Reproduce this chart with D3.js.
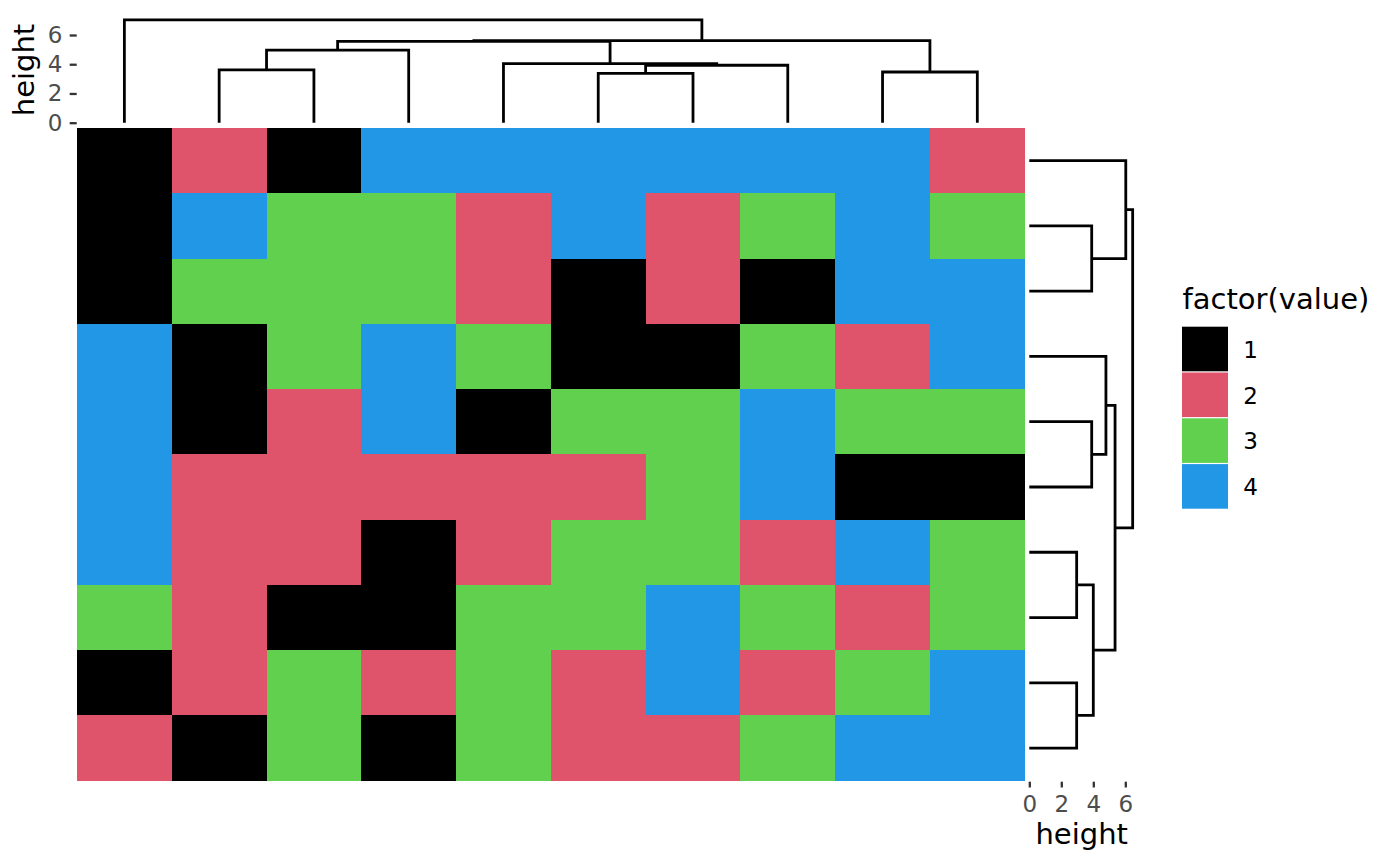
<!DOCTYPE html>
<html>
<head>
<meta charset="utf-8">
<script src="https://cdn.jsdelivr.net/npm/d3@7"></script>
<style>
  html, body { margin: 0; padding: 0; background: #ffffff; }
  svg { display: block; font-family: "DejaVu Sans", sans-serif; }
</style>
</head>
<body>
<svg id="chart" width="1400" height="865"></svg>
<script>
// ---------- data ----------
const colIds = ["c1","c2","c3","c4","c5","c6","c7","c8","c9","c10"];
const rowIds = ["r1","r2","r3","r4","r5","r6","r7","r8","r9","r10"];
const values = [
  [1,2,1,4,4,4,4,4,4,2],
  [1,4,3,3,2,4,2,3,4,3],
  [1,3,3,3,2,1,2,1,4,4],
  [4,1,3,4,3,1,1,3,2,4],
  [4,1,2,4,1,3,3,4,3,3],
  [4,2,2,2,2,2,3,4,1,1],
  [4,2,2,1,2,3,3,2,4,3],
  [3,2,1,1,3,3,4,3,2,3],
  [1,2,3,2,3,2,4,2,3,4],
  [2,1,3,1,3,2,2,3,4,4]
];
const levels = [1,2,3,4];
const levelColors = ["#000000","#DF536B","#61D04F","#2297E6"];
// hclust-style merges (negative = leaf index, positive = earlier merge)
const colMerge  = [[-6,-7],[-9,-10],[-2,-3],[1,-8],[-5,4],[3,-4],[6,5],[7,2],[-1,8]];
const colHeight = [3.38,3.47,3.61,3.93,4.04,4.97,5.57,5.61,7.03];
const rowMerge  = [[-7,-8],[-9,-10],[-2,-3],[-5,-6],[1,2],[-4,4],[6,5],[-1,3],[8,7]];
const rowHeight = [2.96,2.96,3.90,3.90,4.00,4.79,5.36,6.03,6.46];
const heightTicks = [0,2,4,6];
const axisTitle = "height";
const legendTitle = "factor(value)";

// ---------- layout ----------
const svg = d3.select("#chart");
const hm = {x0: 77, x1: 1024.7, y0: 128, y1: 780.7};
const x = d3.scaleBand().domain(colIds).range([hm.x0, hm.x1]).padding(0);
const y = d3.scaleBand().domain(rowIds).range([hm.y0, hm.y1]).padding(0);
const color = d3.scaleOrdinal().domain(levels).range(levelColors);
const topH = d3.scaleLinear().domain([0, 6]).range([122.7, 35]);
const rightH = d3.scaleLinear().domain([0, 6]).range([1029.3, 1125.3]);

// ---------- heatmap ----------
const cells = [];
values.forEach((row, i) => row.forEach((v, j) => cells.push({r: rowIds[i], c: colIds[j], v})));
svg.append("g").selectAll("rect").data(cells).join("rect")
  .attr("x", d => x(d.c))
  .attr("y", d => y(d.r))
  .attr("width", x.bandwidth() + 0.3)
  .attr("height", y.bandwidth() + 0.3)
  .attr("fill", d => color(d.v))
  .attr("shape-rendering", "crispEdges");

// ---------- dendrograms ----------
function buildSegments(merge, heights, leafPos) {
  const nodes = [];
  const paths = [];
  const get = k => k < 0 ? {p: leafPos(-k - 1), h: 0} : nodes[k - 1];
  merge.forEach((m, i) => {
    const a = get(m[0]), b = get(m[1]), h = heights[i];
    nodes.push({p: (a.p + b.p) / 2, h});
    paths.push({a, b, h});
  });
  return paths;
}
const colPaths = buildSegments(colMerge, colHeight, i => x(colIds[i]) + x.bandwidth() / 2);
const rowPaths = buildSegments(rowMerge, rowHeight, i => y(rowIds[i]) + y.bandwidth() / 2);

svg.append("g").selectAll("path").data(colPaths).join("path")
  .attr("d", d => `M${d.a.p},${topH(d.a.h)}V${topH(d.h)}H${d.b.p}V${topH(d.b.h)}`)
  .attr("fill", "none").attr("stroke", "#000").attr("stroke-width", 2.8)
  .attr("stroke-linejoin", "miter").attr("stroke-linecap", "butt");

svg.append("g").selectAll("path").data(rowPaths).join("path")
  .attr("d", d => `M${rightH(d.a.h)},${d.a.p}H${rightH(d.h)}V${d.b.p}H${rightH(d.b.h)}`)
  .attr("fill", "none").attr("stroke", "#000").attr("stroke-width", 2.8)
  .attr("stroke-linejoin", "miter").attr("stroke-linecap", "butt");

// ---------- axes ----------
const fmt = d3.format("d");
const leftAxis = svg.append("g").attr("transform", "translate(76.7,0)")
  .call(d3.axisLeft(topH).tickValues(heightTicks).tickFormat(fmt).tickSize(7).tickPadding(7.4));
const bottomAxis = svg.append("g").attr("transform", "translate(0,781.7)")
  .call(d3.axisBottom(rightH).tickValues(heightTicks).tickFormat(fmt).tickSize(5.8).tickPadding(8.6));
[leftAxis, bottomAxis].forEach(g => {
  g.select(".domain").remove();
  g.selectAll(".tick line").attr("stroke", "#333333").attr("stroke-width", 2.3);
  g.selectAll(".tick text").attr("fill", "#4D4D4D")
    .style("font-family", "'DejaVu Sans', sans-serif").style("font-size", "23px");
});

svg.append("text")
  .attr("transform", "translate(33.5,70) rotate(-90)")
  .attr("text-anchor", "middle")
  .style("font-size", "29px").attr("fill", "#000")
  .text(axisTitle);
svg.append("text")
  .attr("x", 1081.7).attr("y", 843.5)
  .attr("text-anchor", "middle")
  .style("font-size", "29px").attr("fill", "#000")
  .text(axisTitle);

// ---------- legend ----------
const lg = svg.append("g");
lg.append("text").attr("x", 1182.5).attr("y", 309.3)
  .style("font-size", "29px").attr("fill", "#000").text(legendTitle);
const keyH = 45.8, keyTop = 326.7;
const ky = d3.scaleBand().domain(levels).range([keyTop, keyTop + keyH * levels.length]);
lg.selectAll("rect").data(levels).join("rect")
  .attr("x", 1182).attr("y", d => ky(d))
  .attr("width", 46).attr("height", ky.bandwidth() - 1.2)
  .attr("fill", d => color(d));
lg.selectAll("text.lab").data(levels).join("text").attr("class", "lab")
  .attr("x", 1243.3).attr("y", d => ky(d) + ky.bandwidth() / 2)
  .attr("dy", "0.36em")
  .style("font-size", "23px").attr("fill", "#000")
  .text(d => d);
</script>
</body>
</html>
